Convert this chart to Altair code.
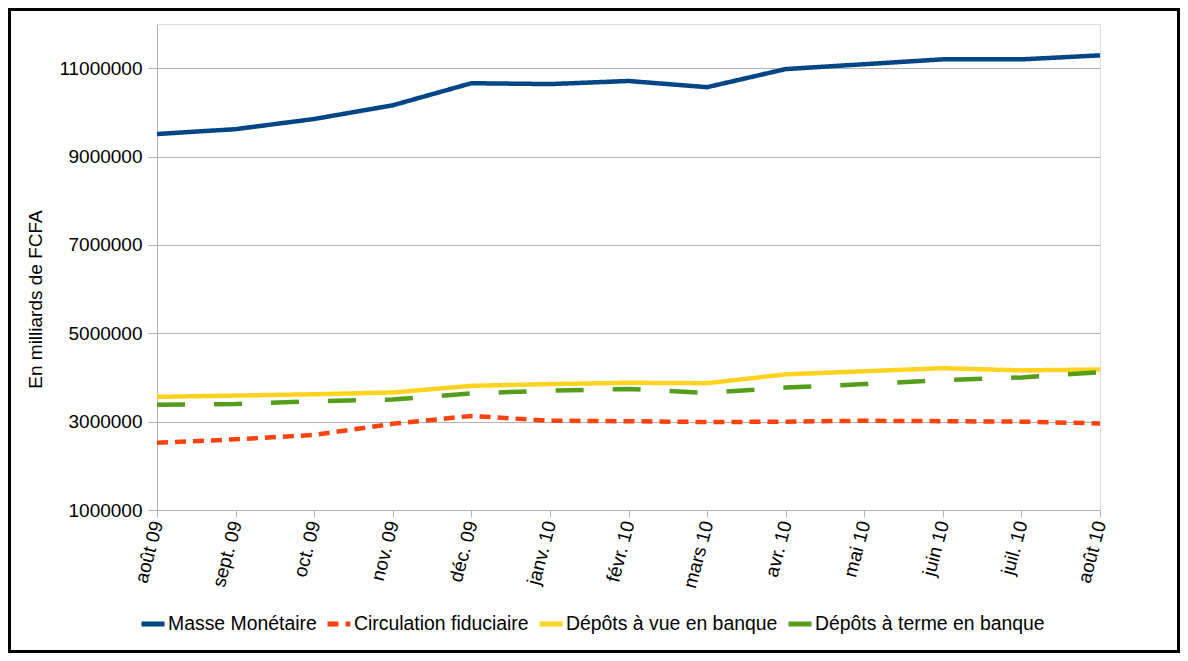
import altair as alt
import pandas as pd

months = ["août 09", "sept. 09", "oct. 09", "nov. 09", "déc. 09", "janv. 10", "févr. 10",
          "mars 10", "avr. 10", "mai 10", "juin 10", "juil. 10", "août 10"]

masse = [9510000, 9620000, 9850000, 10160000, 10660000, 10640000, 10710000,
         10570000, 10980000, 11090000, 11200000, 11200000, 11290000]
circulation = [2520000, 2600000, 2700000, 2950000, 3130000, 3020000, 3010000,
               2990000, 3000000, 3020000, 3010000, 3000000, 2960000]
depots_vue = [3560000, 3590000, 3620000, 3660000, 3810000, 3850000, 3880000,
              3870000, 4070000, 4140000, 4210000, 4160000, 4180000]
depots_terme = [3380000, 3400000, 3460000, 3500000, 3640000, 3700000, 3740000,
                3650000, 3770000, 3850000, 3940000, 4000000, 4120000]

series_names = ["Masse Monétaire", "Circulation fiduciaire",
                "Dépôts à vue en banque", "Dépôts à terme en banque"]
series_values = [masse, circulation, depots_vue, depots_terme]
colors = ["#004586", "#ff420e", "#ffd320", "#579d1c"]
dashes = [[1, 0], [11, 7], [1, 0], [28, 29]]

rows = []
for name, vals in zip(series_names, series_values):
    for m, v in zip(months, vals):
        rows.append({"mois": m, "valeur": v, "serie": name})
df = pd.DataFrame(rows)

FONT = "Liberation Sans"

legend_cfg = dict(title=None, orient="none", direction="horizontal",
                  legendX=-18, legendY=586, columns=4,
                  symbolType="stroke", symbolSize=529,
                  symbolStrokeWidth=5, labelFontSize=19.4,
                  labelColor="#000", labelFont=FONT, labelOffset=1,
                  labelLimit=0, columnPadding=0, padding=0)

lines = alt.Chart(df).mark_line(strokeWidth=4.5, interpolate="linear").encode(
    x=alt.X("mois:N", sort=months, scale=alt.Scale(type="point", padding=0),
            axis=alt.Axis(title=None, labelAngle=285, labelAlign="right",
                          labelBaseline="middle", labelPadding=4, tickSize=7,
                          labelFontSize=19, labelColor="#000", grid=False,
                          domainColor="#b3b3b3", tickColor="#b3b3b3", labelFont=FONT)),
    y=alt.Y("valeur:Q", scale=alt.Scale(domain=[1000000, 12000000], nice=False, zero=False),
            axis=alt.Axis(title="En milliards de FCFA", values=[1000000, 3000000, 5000000,
                                                                7000000, 9000000, 11000000],
                          format="d", labelFontSize=19, labelColor="#000", tickSize=9,
                          labelPadding=6, gridColor="#b3b3b3", domainColor="#b3b3b3",
                          tickColor="#b3b3b3", titleFontSize=19, titleFontWeight="normal",
                          titleColor="#000", titleAngle=270, titleX=-116, titleY=275,
                          titleAlign="center", titleBaseline="alphabetic",
                          labelFont=FONT, titleFont=FONT)),
    color=alt.Color("serie:N", scale=alt.Scale(domain=series_names, range=colors),
                    legend=alt.Legend(**legend_cfg)),
    strokeDash=alt.StrokeDash("serie:N", scale=alt.Scale(domain=series_names, range=dashes),
                              legend=alt.Legend(**legend_cfg)),
)

frame = alt.Chart(pd.DataFrame({"a": [0]})).mark_rect(
    filled=False, stroke="black", strokeWidth=3
).encode(
    x=alt.value(-147.5), x2=alt.value(1021.5), y=alt.value(-14.5), y2=alt.value(627.5)
)

chart = alt.layer(lines, frame).properties(
    width=943, height=486,
    autosize=alt.AutoSizeParams(type="none"),
    padding={"left": 149, "top": 16, "right": 80, "bottom": 143},
    background="white",
).configure_view(stroke="#b3b3b3", strokeWidth=1).configure(font=FONT)

chart.save("out.html", embed_options={"renderer": "svg", "actions": False})
